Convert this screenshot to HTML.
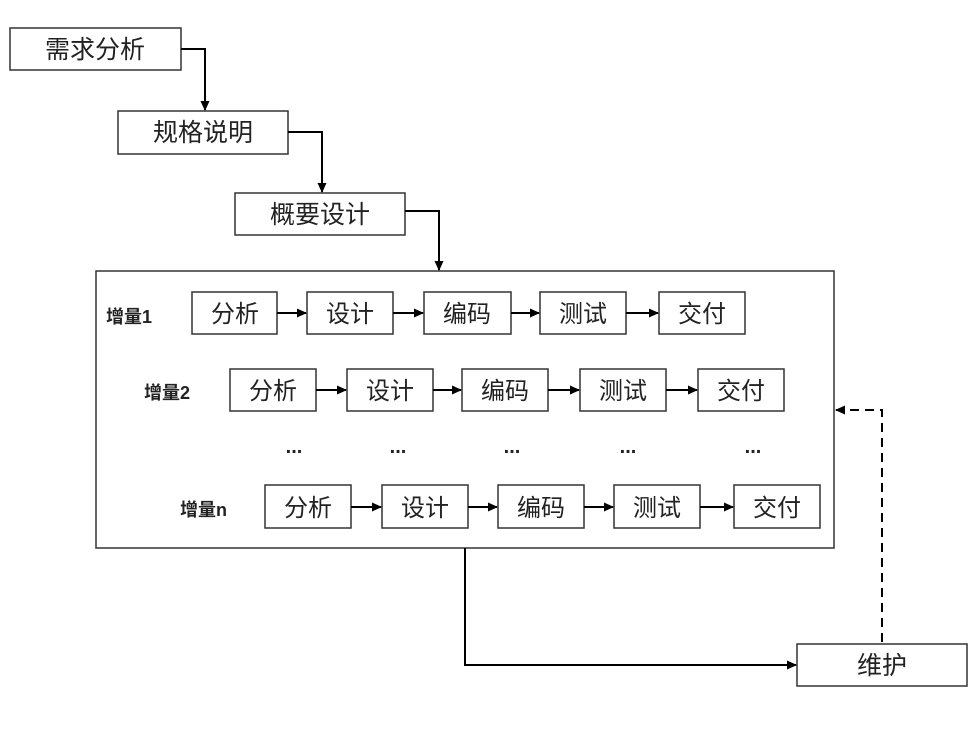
<!DOCTYPE html>
<html><head><meta charset="utf-8"><style>
html,body{margin:0;padding:0;background:#fff;}
svg{display:block;}
text{font-family:"Liberation Sans","Noto Sans CJK SC",sans-serif;fill:#222;}
</style></head><body>
<svg width="980" height="730" viewBox="0 0 980 730" xmlns="http://www.w3.org/2000/svg">
<defs>
<marker id="a" markerWidth="10" markerHeight="10" refX="9" refY="5" orient="auto" markerUnits="userSpaceOnUse">
<path d="M0,0.5 L10,5 L0,9.5 z" fill="#000"/></marker>
</defs>
<g fill="#fff" stroke="#333" stroke-width="1.5">
<rect x="10" y="28" width="171" height="42"/>
<rect x="118" y="111" width="170" height="43"/>
<rect x="235" y="193" width="170" height="42"/>
<rect x="96" y="271" width="738" height="277"/>
<rect x="797" y="644" width="170" height="42"/>
<rect x="192" y="292" width="85" height="42"/>
<rect x="307" y="292" width="86" height="42"/>
<rect x="424" y="292" width="87" height="42"/>
<rect x="540" y="292" width="86" height="42"/>
<rect x="659" y="292" width="86" height="42"/>
<rect x="230" y="369" width="86" height="42"/>
<rect x="347" y="369" width="86" height="42"/>
<rect x="462" y="369" width="86" height="42"/>
<rect x="580" y="369" width="86" height="42"/>
<rect x="698" y="369" width="86" height="42"/>
<rect x="265" y="485" width="86" height="43"/>
<rect x="382" y="485" width="86" height="43"/>
<rect x="498" y="485" width="86" height="43"/>
<rect x="614" y="485" width="86" height="43"/>
<rect x="734" y="485" width="86" height="43"/>
</g>
<g fill="none" stroke="#000" stroke-width="2">
<polyline points="181,49 205,49 205,110" marker-end="url(#a)"/>
<polyline points="288,132 322,132 322,192" marker-end="url(#a)"/>
<polyline points="405,211 439,211 439,270" marker-end="url(#a)"/>
<line x1="277" y1="313" x2="306" y2="313" marker-end="url(#a)"/>
<line x1="393" y1="313" x2="423" y2="313" marker-end="url(#a)"/>
<line x1="511" y1="313" x2="539" y2="313" marker-end="url(#a)"/>
<line x1="626" y1="313" x2="658" y2="313" marker-end="url(#a)"/>
<line x1="316" y1="390" x2="346" y2="390" marker-end="url(#a)"/>
<line x1="433" y1="390" x2="461" y2="390" marker-end="url(#a)"/>
<line x1="548" y1="390" x2="579" y2="390" marker-end="url(#a)"/>
<line x1="666" y1="390" x2="697" y2="390" marker-end="url(#a)"/>
<line x1="351" y1="507" x2="381" y2="507" marker-end="url(#a)"/>
<line x1="468" y1="507" x2="497" y2="507" marker-end="url(#a)"/>
<line x1="584" y1="507" x2="613" y2="507" marker-end="url(#a)"/>
<line x1="700" y1="507" x2="733" y2="507" marker-end="url(#a)"/>
<polyline points="465,548 465,665 796,665" marker-end="url(#a)"/>
<polyline points="882,642 882,410 836,410" stroke-dasharray="9,6" marker-end="url(#a)"/>
</g>
<g font-size="25" text-anchor="middle">
<text x="95" y="58">需求分析</text>
<text x="203" y="141">规格说明</text>
<text x="320" y="223">概要设计</text>
<text x="882" y="674">维护</text>
</g>
<g font-size="24" text-anchor="middle">
<text x="235" y="322">分析</text><text x="350" y="322">设计</text><text x="467" y="322">编码</text><text x="583" y="322">测试</text><text x="702" y="322">交付</text>
<text x="273" y="399">分析</text><text x="390" y="399">设计</text><text x="505" y="399">编码</text><text x="623" y="399">测试</text><text x="741" y="399">交付</text>
<text x="308" y="516">分析</text><text x="425" y="516">设计</text><text x="541" y="516">编码</text><text x="657" y="516">测试</text><text x="777" y="516">交付</text>
</g>
<g font-size="18" font-weight="bold">
<text x="106" y="323">增量1</text>
<text x="144" y="399">增量2</text>
<text x="180" y="516">增量n</text>
</g>
<g font-size="20" font-weight="bold" text-anchor="middle">
<text x="294" y="453">...</text><text x="398" y="453">...</text><text x="512" y="453">...</text><text x="628" y="453">...</text><text x="753" y="453">...</text>
</g>
</svg>
</body></html>
